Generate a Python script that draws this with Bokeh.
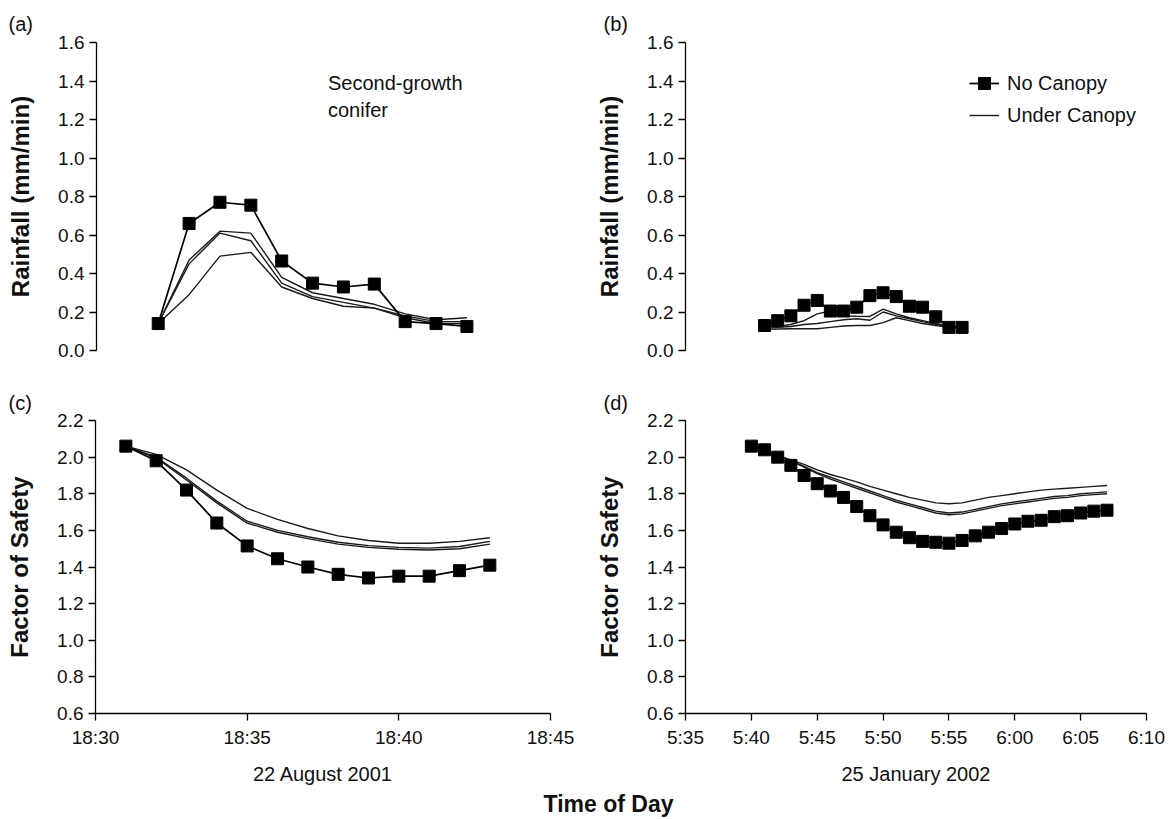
from bokeh.plotting import figure
from bokeh.models import Range1d, FixedTicker, Label, Legend, LegendItem, NumeralTickFormatter
from bokeh.layouts import column, row
from bokeh.embed import file_html
from bokeh.resources import INLINE

FONT = "Liberation Sans"

# ---------------- data ----------------
# (a) rainfall, 22 August 2001
a_times = ["18:32", "18:33", "18:34", "18:35", "18:36", "18:37", "18:38", "18:39", "18:40", "18:41", "18:42"]
a_no_canopy = [0.14, 0.66, 0.77, 0.755, 0.465, 0.35, 0.33, 0.345, 0.15, 0.14, 0.125]
a_under_1 = [0.14, 0.47, 0.62, 0.61, 0.38, 0.30, 0.27, 0.24, 0.19, 0.16, 0.17]
a_under_2 = [0.14, 0.45, 0.61, 0.57, 0.35, 0.28, 0.25, 0.22, 0.18, 0.15, 0.15]
a_under_3 = [0.14, 0.29, 0.49, 0.51, 0.33, 0.27, 0.23, 0.22, 0.17, 0.14, 0.14]

# (b) rainfall, 25 January 2002
b_times = ["5:41", "5:42", "5:43", "5:44", "5:45", "5:46", "5:47", "5:48", "5:49", "5:50",
           "5:51", "5:52", "5:53", "5:54", "5:55", "5:56"]
b_no_canopy = [0.13, 0.155, 0.18, 0.235, 0.26, 0.205, 0.205, 0.225, 0.285, 0.30,
               0.28, 0.23, 0.225, 0.175, 0.12, 0.12]
b_under_1 = [0.12, 0.125, 0.135, 0.155, 0.19, 0.205, 0.18, 0.178, 0.177, 0.215,
             0.19, 0.17, 0.155, 0.14, 0.125, 0.12]
b_under_2 = [0.115, 0.12, 0.125, 0.135, 0.14, 0.15, 0.16, 0.165, 0.157, 0.20,
             0.18, 0.165, 0.15, 0.135, 0.125, 0.12]
b_under_3 = [0.11, 0.112, 0.113, 0.113, 0.113, 0.12, 0.127, 0.13, 0.13, 0.145,
             0.17, 0.155, 0.14, 0.13, 0.12, 0.118]

# (c) factor of safety, 22 August 2001
c_times = ["18:31", "18:32", "18:33", "18:34", "18:35", "18:36", "18:37", "18:38", "18:39",
           "18:40", "18:41", "18:42", "18:43"]
c_no_canopy = [2.06, 1.98, 1.82, 1.64, 1.515, 1.445, 1.40, 1.36, 1.34, 1.35, 1.35, 1.38, 1.41]
c_under_1 = [2.06, 2.015, 1.93, 1.82, 1.72, 1.66, 1.61, 1.57, 1.545, 1.53, 1.53, 1.54, 1.56]
c_under_2 = [2.06, 2.00, 1.885, 1.76, 1.65, 1.60, 1.565, 1.535, 1.517, 1.507, 1.503, 1.512, 1.54]
c_under_3 = [2.06, 1.995, 1.875, 1.75, 1.64, 1.59, 1.555, 1.525, 1.507, 1.497, 1.493, 1.50, 1.525]

# (d) factor of safety, 25 January 2002
d_times = ["5:40", "5:41", "5:42", "5:43", "5:44", "5:45", "5:46", "5:47", "5:48", "5:49",
           "5:50", "5:51", "5:52", "5:53", "5:54", "5:55", "5:56", "5:57", "5:58", "5:59",
           "6:00", "6:01", "6:02", "6:03", "6:04", "6:05", "6:06", "6:07"]
d_no_canopy = [2.06, 2.04, 2.00, 1.955, 1.90, 1.855, 1.815, 1.78, 1.73, 1.68,
               1.63, 1.59, 1.56, 1.54, 1.535, 1.53, 1.545, 1.57, 1.59, 1.61,
               1.635, 1.65, 1.655, 1.675, 1.68, 1.695, 1.705, 1.71]
d_under_1 = [2.06, 2.04, 2.01, 1.985, 1.96, 1.93, 1.905, 1.885, 1.865, 1.84,
             1.82, 1.80, 1.78, 1.765, 1.75, 1.745, 1.75, 1.765, 1.78, 1.79,
             1.80, 1.81, 1.82, 1.825, 1.83, 1.835, 1.84, 1.845]
d_under_2 = [2.06, 2.04, 2.01, 1.98, 1.95, 1.915, 1.89, 1.865, 1.84, 1.815,
             1.79, 1.765, 1.745, 1.725, 1.705, 1.695, 1.70, 1.715, 1.73, 1.745,
             1.755, 1.765, 1.775, 1.785, 1.79, 1.80, 1.805, 1.81]
d_under_3 = [2.06, 2.04, 2.01, 1.98, 1.945, 1.91, 1.88, 1.855, 1.83, 1.805,
             1.78, 1.755, 1.735, 1.715, 1.695, 1.685, 1.69, 1.705, 1.72, 1.735,
             1.745, 1.755, 1.765, 1.775, 1.78, 1.79, 1.795, 1.80]

# ticks
aug_ticks = ["18:30", "18:35", "18:40", "18:45"]
jan_ticks = ["5:35", "5:40", "5:45", "5:50", "5:55", "6:00", "6:05", "6:10"]
rain_ticks = ["0.0", "0.2", "0.4", "0.6", "0.8", "1.0", "1.2", "1.4", "1.6"]
fos_ticks = ["0.6", "0.8", "1.0", "1.2", "1.4", "1.6", "1.8", "2.0", "2.2"]


def to_min(t):
    h, m = t.split(":")
    return int(h) * 60 + int(m)


def make_fig(width, height, x_ticks, y_ticks, bl, br, bt, bb, show_x, ylabel, tag, tag_dx, tag_up,
             xlabel=None):
    xt = [to_min(t) for t in x_ticks]
    yt = [float(v) for v in y_ticks]
    p = figure(width=width, height=height, output_backend="svg", toolbar_location=None,
               x_range=Range1d(xt[0], xt[-1]), y_range=Range1d(yt[0], yt[-1]),
               min_border_left=bl, min_border_right=br, min_border_top=bt, min_border_bottom=bb,
               title=tag)
    p.title.align = "left"
    p.title.offset = tag_dx
    p.title.standoff = tag_up
    p.title.text_font = FONT
    p.title.text_font_size = "20px"
    p.title.text_font_style = "normal"
    p.title.text_color = "#111111"
    p.outline_line_color = None
    p.grid.visible = False
    p.background_fill_color = "white"
    p.border_fill_color = "white"

    for ax in (p.xaxis[0], p.yaxis[0]):
        ax.axis_line_color = "black"
        ax.axis_line_width = 1.3
        ax.major_tick_line_color = "black"
        ax.major_tick_line_width = 1.3
        ax.major_tick_in = 0
        ax.major_tick_out = 7
        ax.minor_tick_line_color = None
        ax.major_label_text_font = FONT
        ax.major_label_text_font_size = "19px"
        ax.major_label_text_color = "#111111"
        ax.axis_label_text_color = "#111111"
        ax.axis_label_text_font = FONT

    p.yaxis.ticker = FixedTicker(ticks=yt)
    p.yaxis.formatter = NumeralTickFormatter(format="0.0")
    p.yaxis.major_label_standoff = 5
    p.yaxis.axis_label = ylabel
    p.yaxis.axis_label_text_font_size = "24px"
    p.yaxis.axis_label_text_font_style = "bold"
    p.yaxis.axis_label_standoff = 21

    p.xaxis.ticker = FixedTicker(ticks=xt)
    p.xaxis.major_label_overrides = {v: s for v, s in zip(xt, x_ticks)}
    p.xaxis.major_label_standoff = 6
    if xlabel:
        p.xaxis.axis_label = xlabel
        p.xaxis.axis_label_text_font_size = "20px"
        p.xaxis.axis_label_text_font_style = "normal"
        p.xaxis.axis_label_standoff = 12
    p.xaxis.visible = show_x
    return p


def draw(p, times, no_canopy, unders):
    xs = [to_min(t) for t in times]
    uc = None
    for u in unders:
        uc = p.line(xs, u, line_color="#1a1a1a", line_width=1.4)
    nl = p.line(xs, no_canopy, line_color="black", line_width=1.7)
    ns = p.scatter(xs, no_canopy, marker="square", size=12, fill_color="black", line_color="black")
    return nl, ns, uc


# ---------------- figures ----------------
pa = make_fig(590, 380, aug_ticks, rain_ticks, 96, 31, 42, 30, False, "Rainfall (mm/min)", "(a)", -88, 16)
pb = make_fig(576, 380, jan_ticks, rain_ticks, 95, 20, 42, 30, False, "Rainfall (mm/min)", "(b)", -82, 16)
pc = make_fig(590, 408, aug_ticks, fos_ticks, 95, 40, 40, 75, True, "Factor of Safety", "(c)", -87, 14,
              "22 August 2001")
pd = make_fig(576, 408, jan_ticks, fos_ticks, 95, 20, 40, 75, True, "Factor of Safety", "(d)", -82, 14,
              "25 January 2002")

draw(pa, a_times, a_no_canopy, [a_under_1, a_under_2, a_under_3])
nl, ns, uc = draw(pb, b_times, b_no_canopy, [b_under_1, b_under_2, b_under_3])
draw(pc, c_times, c_no_canopy, [c_under_1, c_under_2, c_under_3])
draw(pd, d_times, d_no_canopy, [d_under_1, d_under_2, d_under_3])

for txt, yv in (("Second-growth", 1.389), ("conifer", 1.247)):
    pa.add_layout(Label(x=1117.5, y=yv, text=txt, text_font=FONT, text_font_size="20px",
                        text_color="#111111", text_align="left", text_baseline="middle"))

legend = Legend(items=[LegendItem(label="No Canopy", renderers=[nl, ns]),
                       LegendItem(label="Under Canopy", renderers=[uc])],
                location=(284, 220), padding=0, margin=0, spacing=2,
                glyph_width=30, glyph_height=30, label_height=30, label_standoff=8,
                label_text_font=FONT, label_text_font_size="20px", label_text_color="#111111",
                border_line_color=None, background_fill_alpha=0)
pb.add_layout(legend)

pt = figure(width=1166, height=31, output_backend="svg", toolbar_location=None,
            x_range=Range1d(0, 1), y_range=Range1d(0, 1), title="Time of Day",
            min_border_left=50, min_border_right=0, min_border_top=0, min_border_bottom=0)
pt.axis.visible = False
pt.grid.visible = False
pt.outline_line_color = None
pt.title.align = "center"
pt.title.text_font = FONT
pt.title.text_font_size = "23px"
pt.title.text_font_style = "bold"
pt.title.text_color = "#111111"
pt.title.standoff = 0
pt.title.offset = 0

layout = column(row(pa, pb), row(pc, pd), pt)
open("out.html", "w").write(file_html(layout, INLINE))
